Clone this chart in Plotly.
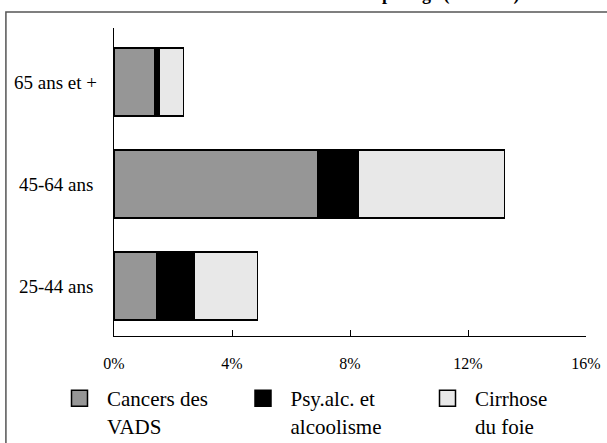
import plotly.graph_objects as go

categories = ["25-44 ans", "45-64 ans", "65 ans et +"]
series_names = ["Cancers des<br>VADS", "Psy.alc. et<br>alcoolisme", "Cirrhose<br>du foie"]
vads = [1.46, 6.89, 1.38]
psy = [1.26, 1.39, 0.15]
cirrhose = [2.15, 4.95, 0.83]
x_ticks = [0, 4, 8, 12, 16]
x_tick_labels = ["0%", "4%", "8%", "12%", "16%"]
title_text = "Part des décès dus à l'alcool par âge (hommes)"

colors = ["#969696", "#000000", "#e8e8e8"]
serif = "Liberation Serif"
legend_ids = ["legend", "legend2", "legend3"]
legend_x_px = [52, 235.5, 420]

fig = go.Figure()
for name, vals, col in zip(series_names, [vads, psy, cirrhose], colors):
    fig.add_trace(go.Bar(
        y=categories, x=vals, orientation="h", name=name,
        marker=dict(color=col, line=dict(color="#000000", width=1.5)),
        showlegend=False,
    ))
# legend entries (large square swatches), one legend box per series
for name, col, lid in zip(series_names, colors, legend_ids):
    fig.add_trace(go.Scatter(
        x=[None], y=[None], mode="markers", name=name, legend=lid,
        marker=dict(symbol="square", size=19, color=col,
                    line=dict(color="#000000", width=1.5)),
        showlegend=True,
    ))

annotations = []
for c in categories:
    annotations.append(dict(
        x=-0.1237, xref="paper", y=c, yref="y", text=c, showarrow=False,
        xanchor="center", yanchor="middle",
        font=dict(family=serif, size=19, color="#000000"),
    ))

legend_common = dict(orientation="h", xref="container", xanchor="left",
                     y=1 - 378/443, yref="container", yanchor="top", valign="top",
                     itemwidth=45,
                     font=dict(family=serif, size=21, color="#000000"),
                     bgcolor="rgba(0,0,0,0)", itemsizing="trace")
legends = {}
for lid, lx in zip(legend_ids, legend_x_px):
    legends[lid] = dict(legend_common, x=lx/607)

fig.update_layout(
    width=607, height=443,
    margin=dict(l=114, r=21, t=28, b=107, autoexpand=False),
    paper_bgcolor="#ffffff", plot_bgcolor="#ffffff",
    barmode="stack", bargap=0.33,
    font=dict(family=serif, size=16, color="#000000"),
    title=dict(text="<b>" + title_text + "</b>", x=0.563, xanchor="center",
               y=1.0, yref="container", yanchor="bottom", pad=dict(b=0),
               font=dict(family=serif, size=18, color="#000000")),
    xaxis=dict(range=[0, 16], tickvals=x_ticks, ticktext=x_tick_labels,
               showgrid=False, zeroline=False, showline=True,
               linecolor="#000000", linewidth=1.2,
               ticks="inside", ticklen=6, tickcolor="#000000", tickwidth=1.2,
               ticklabelstandoff=13,
               tickfont=dict(family=serif, size=16, color="#000000")),
    yaxis=dict(range=[-0.49, 2.53], showgrid=False, zeroline=False,
               showline=True, linecolor="#000000", linewidth=1.2,
               showticklabels=False, ticks=""),
    annotations=annotations,
    shapes=[dict(type="rect", xref="paper", yref="paper",
                 x0=-0.229, x1=1.2, y0=-0.6, y1=1.052,
                 line=dict(color="#555555", width=1.5), layer="below")],
    **legends,
)

fig.write_html("out.html", config={"displayModeBar": False},
               post_script="document.body.style.margin='0';")
